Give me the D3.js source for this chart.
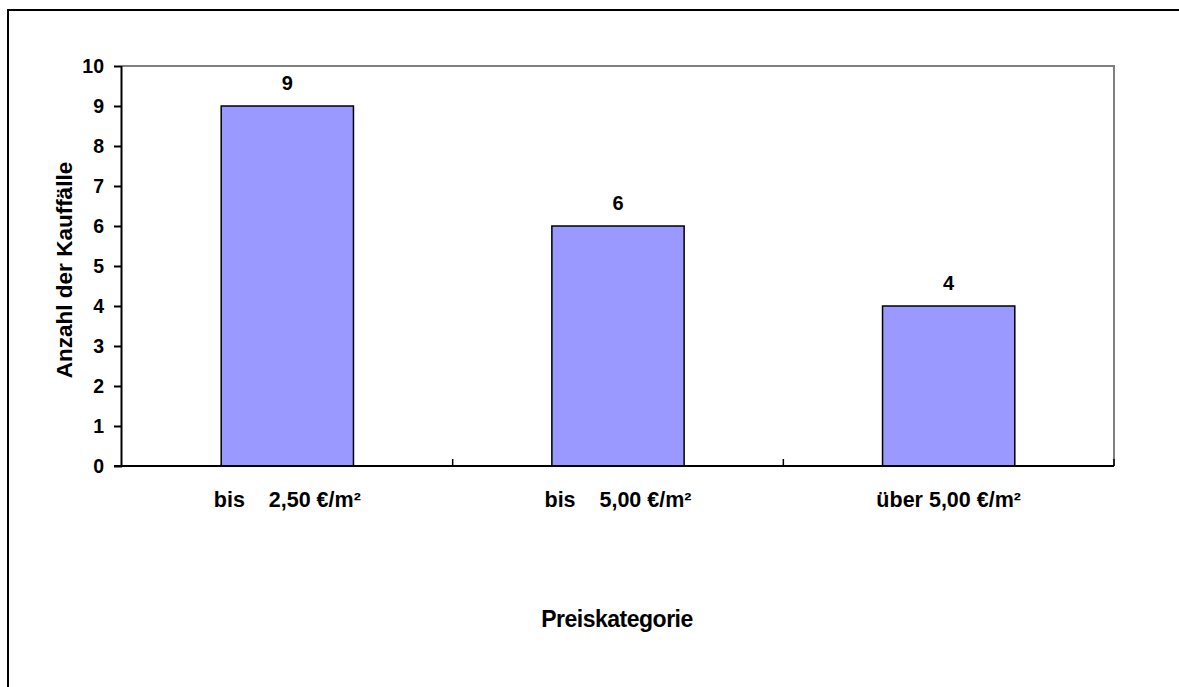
<!DOCTYPE html>
<html><head><meta charset="utf-8">
<script src="https://cdn.jsdelivr.net/npm/d3@7"></script>
<style>body{margin:0;background:#fff}svg text{font-family:"Liberation Sans",Arial,sans-serif;font-weight:bold;white-space:pre}</style>
</head><body>
<svg id="c" width="1179" height="687"></svg>
<script>
const categories = ["bis    2,50 €/m²", "bis    5,00 €/m²", "über 5,00 €/m²"];
const values = [9, 6, 4];
const yTicks = [0,1,2,3,4,5,6,7,8,9,10];
const yTitle = "Anzahl der Kauffälle";
const xTitle = "Preiskategorie";

const svg = d3.select("#c");
svg.append("rect").attr("x",8).attr("y",10).attr("width",1180).attr("height",690)
  .attr("fill","none").attr("stroke","#000").attr("stroke-width",2);

const L=122, R=1114, T=66, B=466;
const x = d3.scaleBand().domain(categories).range([L,R]).paddingInner(0.6).paddingOuter(0.3);
const xb = d3.scaleBand().domain(categories).range([L,R]);
const y = d3.scaleLinear().domain([0,10]).range([B,T]);

svg.append("path").attr("d",`M${L},${T}H${R}V${B}`).attr("fill","none").attr("stroke","#808080").attr("stroke-width",2);

svg.selectAll("rect.bar").data(values).join("rect").attr("class","bar")
  .attr("x",(d,i)=>x(categories[i])).attr("width",x.bandwidth())
  .attr("y",d=>y(d)).attr("height",d=>y(0)-y(d))
  .attr("fill","#9999FF").attr("stroke","#000").attr("stroke-width",1.5);

svg.selectAll("text.val").data(values).join("text").attr("class","val")
  .attr("x",(d,i)=>x(categories[i])+x.bandwidth()/2).attr("y",d=>y(d)-16)
  .attr("text-anchor","middle").attr("font-size",20).text(d=>d);

const ya = svg.append("g").attr("transform",`translate(${L},0)`)
  .call(d3.axisLeft(y).tickValues(yTicks).tickSize(8).tickPadding(10).tickFormat(d3.format("d")));
ya.select(".domain").attr("stroke","#000").attr("stroke-width",2).attr("d",`M-0.5,${T}V${B}`);
ya.selectAll(".tick line").attr("stroke","#000").attr("stroke-width",2);
ya.selectAll("text").attr("font-size",19.5).attr("fill","#000").attr("font-family","Liberation Sans, Arial").attr("font-weight","bold");

const xa = svg.append("g").attr("transform",`translate(0,${B})`);
xa.append("line").attr("x1",L-8).attr("x2",R).attr("y1",0).attr("y2",0).attr("stroke","#000").attr("stroke-width",2);
const bounds = categories.slice(1).map(c=>xb(c)).concat([R]);
xa.selectAll("line.tk").data(bounds).join("line").attr("class","tk")
  .attr("x1",d=>d).attr("x2",d=>d).attr("y1",0).attr("y2",-7).attr("stroke","#000").attr("stroke-width",1.5);
xa.selectAll("text.cat").data(categories).join("text").attr("class","cat")
  .attr("x",d=>xb(d)+xb.bandwidth()/2).attr("y",41).attr("text-anchor","middle")
  .attr("font-size",21.5).text(d=>d);

svg.append("text").attr("transform",`translate(72,270) rotate(-90)`).attr("text-anchor","middle")
  .attr("font-size",22.5).text(yTitle);
svg.append("text").attr("x",617).attr("y",627).attr("text-anchor","middle").attr("font-size",23)
  .attr("letter-spacing",-0.5).text(xTitle);
</script>
</body></html>
